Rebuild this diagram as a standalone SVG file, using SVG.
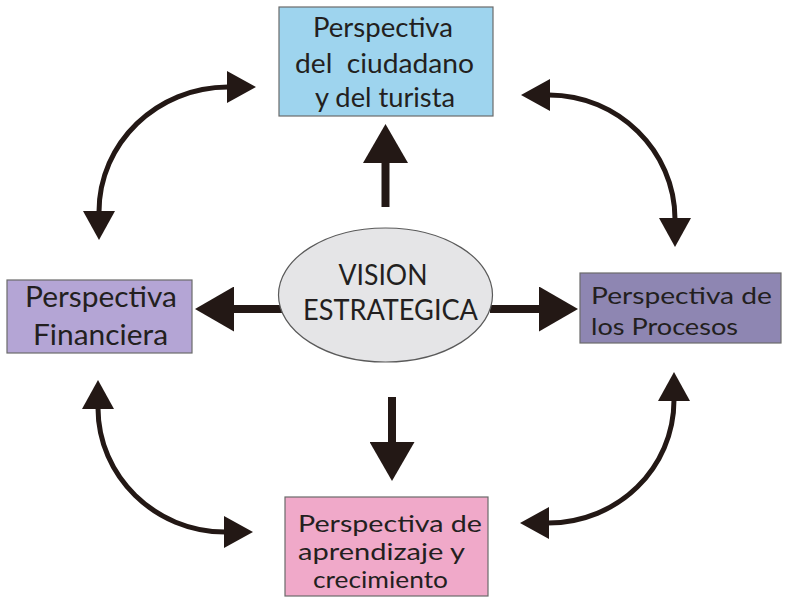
<svg xmlns="http://www.w3.org/2000/svg" width="787" height="601" viewBox="0 0 787 601">
<defs>
<style>
.box{stroke:#6b6b6b;stroke-width:1.2}
.t{font-family:Lato,"Open Sans","Noto Sans",sans-serif;fill:#231f20}
.curve{fill:none;stroke:#231815;stroke-width:5;marker-start:url(#hs);marker-end:url(#hs)}
.straight{fill:none;stroke:#231815;stroke-width:8;marker-end:url(#hl)}
</style>
<marker id="hs" viewBox="0 0 29 32" markerWidth="29" markerHeight="32" refX="1" refY="16" orient="auto-start-reverse" markerUnits="userSpaceOnUse">
<path d="M0,0 L29,16 L0,32 Z" fill="#231815"/>
</marker>
<marker id="hl" viewBox="0 0 39 45" markerWidth="39" markerHeight="45" refX="1" refY="22.5" orient="auto" markerUnits="userSpaceOnUse">
<path d="M0,0 L39,22.5 L0,45 Z" fill="#231815"/>
</marker>
</defs>
<rect width="787" height="601" fill="#ffffff"/>
<g id="connectors">
<path class="curve" d="M228,87 C157,87 99,143 99,212"/>
<path class="curve" d="M549,95 C618,95 675,151 675,219"/>
<path class="curve" d="M98,408 C98,476 155,532 225,532"/>
<path class="curve" d="M674,400 C674,468 618,523 548,523"/>
<path class="straight" d="M385.5,207 L385.5,162"/>
<path class="straight" d="M392,397 L392,443"/>
<path class="straight" d="M282,309 L233,309"/>
<path class="straight" d="M490,309 L540,309"/>
</g>
<g id="vision">
<ellipse cx="385.5" cy="295" rx="107" ry="67" fill="#e5e5e7" stroke="#5a5a5a" stroke-width="1.2"/>
<text class="t" x="383" y="285" font-size="28" text-anchor="middle" textLength="89" lengthAdjust="spacingAndGlyphs">VISION</text>
<text class="t" x="390.5" y="320" font-size="28" text-anchor="middle" textLength="175" lengthAdjust="spacingAndGlyphs">ESTRATEGICA</text>
</g>
<g id="ciudadano">
<rect class="box" x="279" y="7" width="214" height="109" fill="#9ed4ee"/>
<text class="t" x="383" y="37" font-size="26" text-anchor="middle" textLength="140" lengthAdjust="spacingAndGlyphs">Perspectiva</text>
<text class="t" x="384.5" y="73" font-size="26" text-anchor="middle" textLength="179" lengthAdjust="spacingAndGlyphs">del&#160; ciudadano</text>
<text class="t" x="385" y="107" font-size="26" text-anchor="middle" textLength="140" lengthAdjust="spacingAndGlyphs">y del turista</text>
</g>
<g id="financiera">
<rect class="box" x="7" y="280" width="185" height="73" fill="#b4a5d5"/>
<text class="t" x="25" y="307" font-size="28" textLength="152" lengthAdjust="spacingAndGlyphs">Perspectiva</text>
<text class="t" x="33" y="345" font-size="28" textLength="135" lengthAdjust="spacingAndGlyphs">Financiera</text>
</g>
<g id="procesos">
<rect class="box" x="580" y="273" width="201" height="70" fill="#8e86b2"/>
<text class="t" x="591" y="304" font-size="23" textLength="181" lengthAdjust="spacingAndGlyphs">Perspectiva de</text>
<text class="t" x="591" y="335" font-size="23" textLength="147" lengthAdjust="spacingAndGlyphs">los Procesos</text>
</g>
<g id="aprendizaje">
<rect class="box" x="285" y="497" width="203" height="99" fill="#f0a9c9"/>
<text class="t" x="298" y="532" font-size="23" textLength="184" lengthAdjust="spacingAndGlyphs">Perspectiva de</text>
<text class="t" x="298" y="560" font-size="23" textLength="167" lengthAdjust="spacingAndGlyphs">aprendizaje y</text>
<text class="t" x="313" y="588" font-size="23" textLength="135" lengthAdjust="spacingAndGlyphs">crecimiento</text>
</g>
</svg>
